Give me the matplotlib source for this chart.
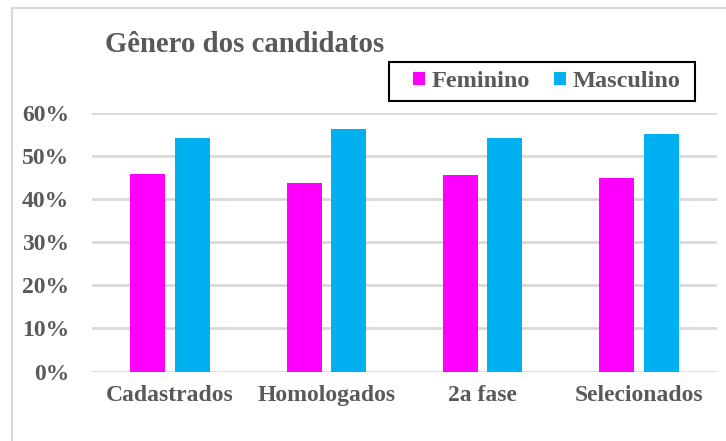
import matplotlib
matplotlib.use("Agg")
import matplotlib.pyplot as plt
from matplotlib.lines import Line2D
from matplotlib.patches import Patch, Rectangle
import numpy as np

categories = ["Cadastrados", "Homologados", "2a fase", "Selecionados"]
feminino = [0.459, 0.438, 0.457, 0.449]
masculino = [0.541, 0.562, 0.543, 0.551]
series_names = ["Feminino", "Masculino"]
yticks = [0.0, 0.1, 0.2, 0.3, 0.4, 0.5, 0.6]
ytick_labels = ["0%", "10%", "20%", "30%", "40%", "50%", "60%"]

plt.rcParams['font.family'] = ['Liberation Serif', 'DejaVu Serif']
TXT = "#595959"
C_F = "#FF00FF"
C_M = "#00B0F0"
GRID = "#D9D9D9"

W, H = 726, 441
fig = plt.figure(figsize=(W / 100, H / 100), dpi=100)
ax = fig.add_axes([92 / W, (H - 371.5) / H, (717 - 92) / W, (371.5 - 113) / H])

x = np.arange(len(categories))
bw = 0.224
off = 0.142
ax.bar(x - off, feminino, bw, color=C_F, zorder=3)
ax.bar(x + off, masculino, bw, color=C_M, zorder=3)

ax.set_xlim(-0.5, 3.5)
ax.set_ylim(0, 0.6)
ax.set_yticks(yticks)
ax.set_yticklabels(ytick_labels)
ax.set_xticks(x)
ax.set_xticklabels(categories)
for spine in ax.spines.values():
    spine.set_visible(False)
ax.tick_params(axis='both', length=0, labelsize=17, labelcolor=TXT)
ax.tick_params(axis='y', pad=16.5)
ax.tick_params(axis='x', pad=10)
for lab in ax.get_xticklabels() + ax.get_yticklabels():
    lab.set_fontweight('bold')
ax.yaxis.grid(True, color=GRID, linewidth=2, zorder=0)
ax.set_axisbelow(True)

# Outer chart border (left and top visible)
fig.add_artist(Line2D([11.5 / W, 11.5 / W], [0, 1 - 7.5 / H], color=GRID, linewidth=1.5,
                      transform=fig.transFigure))
fig.add_artist(Line2D([11.5 / W, 1], [1 - 7.5 / H, 1 - 7.5 / H], color=GRID, linewidth=1.5,
                      transform=fig.transFigure))

fig.text(105 / W, 1 - 52 / H, "Gênero dos candidatos", fontsize=20.7, fontweight='bold',
         color=TXT, ha='left', va='baseline')

# Legend frame
fig.add_artist(Rectangle((388.5 / W, 1 - 101 / H), (695 - 388.5) / W, (101 - 62.5) / H,
                         transform=fig.transFigure, fill=False, edgecolor='black',
                         linewidth=1.5, zorder=5))

handles = [Patch(facecolor=C_F, edgecolor='none'), Patch(facecolor=C_M, edgecolor='none')]
leg = fig.legend(handles, series_names, loc='center left',
                 bbox_to_anchor=(413.3 / W, 1 - 81.7 / H), bbox_transform=fig.transFigure,
                 ncol=2, frameon=False, borderaxespad=0, borderpad=0,
                 handlelength=0.5, handleheight=0.5, handletextpad=0.25,
                 columnspacing=1.0,
                 prop={'size': 17.5, 'weight': 'bold', 'family': 'Liberation Serif'})
for t in leg.get_texts():
    t.set_color(TXT)

fig.savefig("out.png", dpi=100)
